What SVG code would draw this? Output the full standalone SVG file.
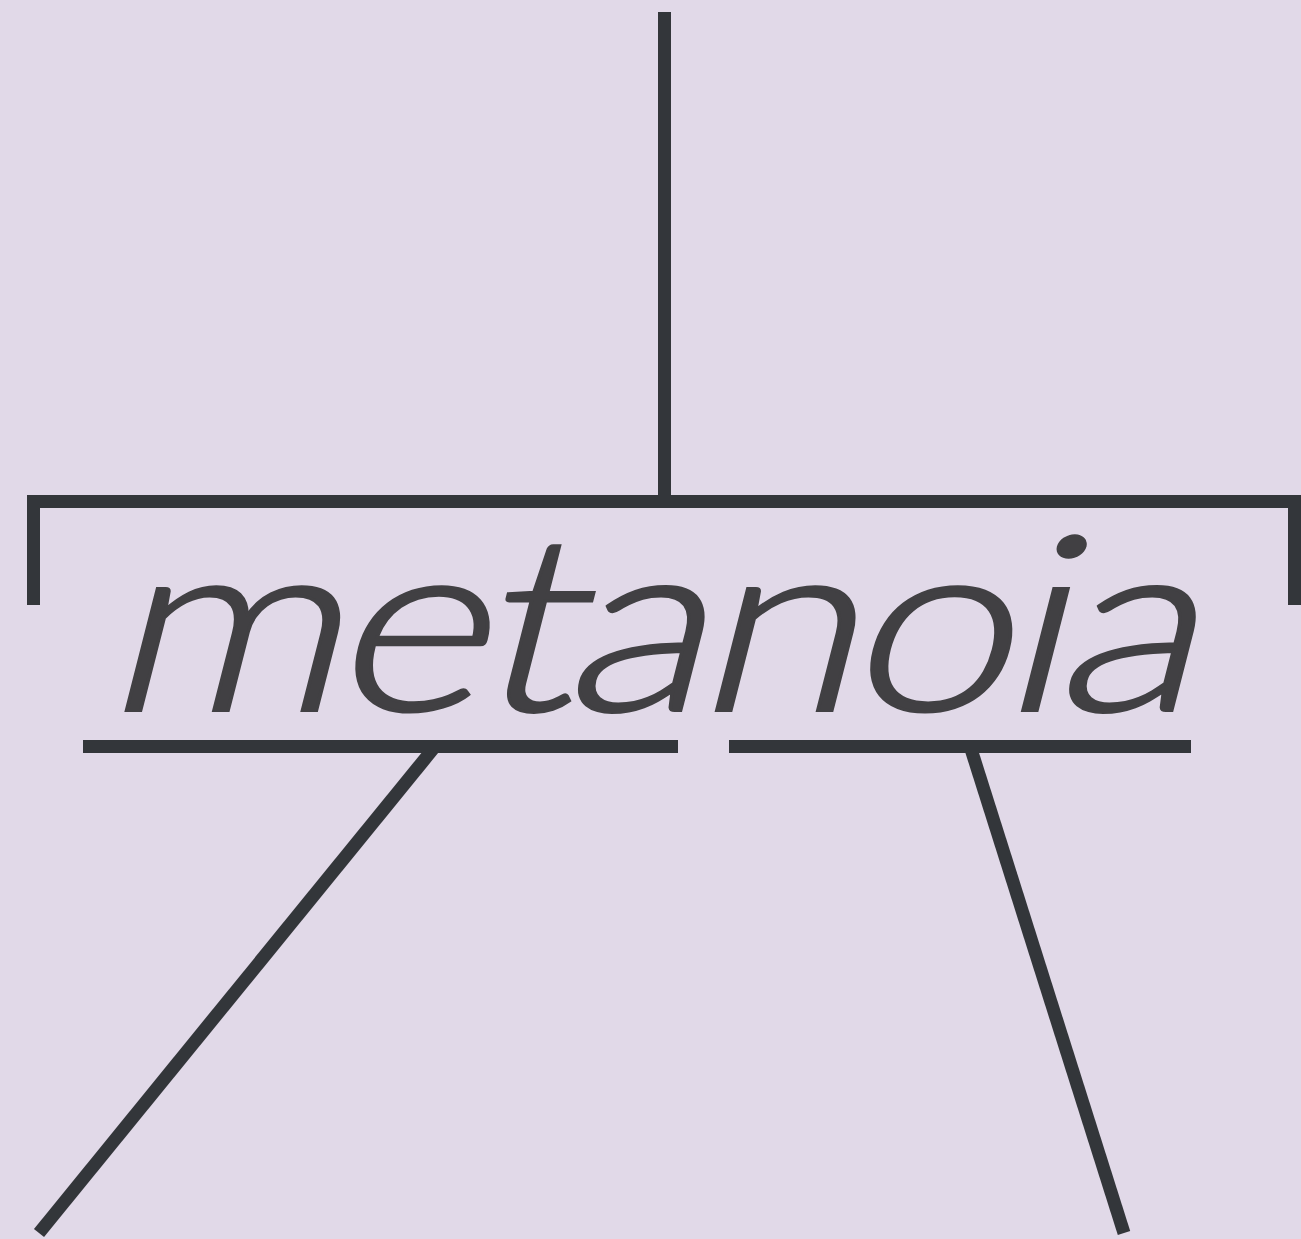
<svg xmlns="http://www.w3.org/2000/svg" width="1301" height="1239" viewBox="0 0 1301 1239">
<style>
.ln{stroke:#33363a;stroke-width:13;fill:none;stroke-linecap:butt}
.bar{fill:#33363a}
.word{font-family:Lato,"Noto Sans",sans-serif;font-style:normal;font-weight:300;font-size:245px;fill:#414043;stroke:#414043;stroke-width:3;stroke-linejoin:miter}
</style>
<rect width="1301" height="1239" fill="#e1d9e8"/>
<g id="connectors">
<line class="ln" x1="664.5" y1="12" x2="664.5" y2="496"/>
<path class="ln" d="M33.5,605 V501.5 H1294.5 V605"/>
<line class="ln" x1="433" y1="749" x2="39" y2="1233"/>
<line class="ln" x1="971" y1="749" x2="1124" y2="1233"/>
</g>
<g id="word">
<text class="word" transform="translate(0,712) scale(1.2,1) skewX(-12)" x="85" y="-1.5" textLength="910" lengthAdjust="spacing">metanoia</text>
</g>
<g id="meta">
<rect class="bar" x="83" y="740" width="595" height="13"/>
</g>
<g id="noia">
<rect class="bar" x="729" y="740" width="462" height="13"/>
</g>
</svg>
